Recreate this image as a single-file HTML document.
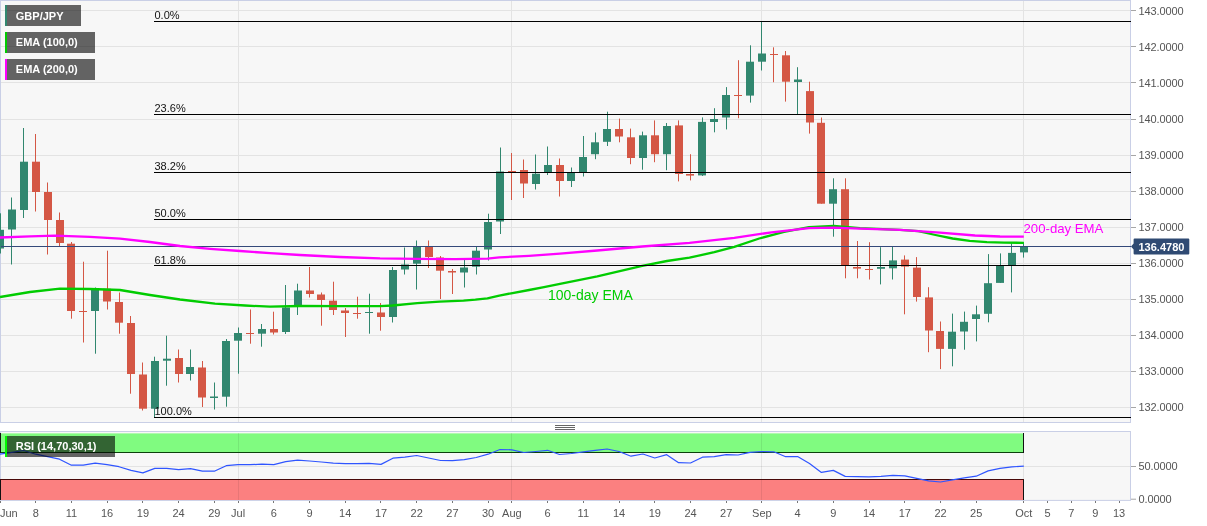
<!DOCTYPE html>
<html><head><meta charset="utf-8"><title>GBP/JPY</title>
<style>
html,body{margin:0;padding:0;background:#fff;}
body{width:1207px;height:526px;overflow:hidden;}
svg{display:block;will-change:transform;opacity:0.999;}
text{font-family:"Liberation Sans",sans-serif;}
</style></head><body>
<svg width="1207" height="526" viewBox="0 0 1207 526">
<rect x="0" y="0" width="1207" height="526" fill="#fff"/>
<rect x="0.5" y="0.5" width="1130" height="422" fill="#f7f7f7" stroke="#c9cfe6"/>
<rect x="1" y="10" width="1129" height="1" fill="#e3e3e3"/>
<rect x="1" y="46" width="1129" height="1" fill="#e3e3e3"/>
<rect x="1" y="82" width="1129" height="1" fill="#e3e3e3"/>
<rect x="1" y="119" width="1129" height="1" fill="#e3e3e3"/>
<rect x="1" y="155" width="1129" height="1" fill="#e3e3e3"/>
<rect x="1" y="191" width="1129" height="1" fill="#e3e3e3"/>
<rect x="1" y="227" width="1129" height="1" fill="#e3e3e3"/>
<rect x="1" y="263" width="1129" height="1" fill="#e3e3e3"/>
<rect x="1" y="299" width="1129" height="1" fill="#e3e3e3"/>
<rect x="1" y="335" width="1129" height="1" fill="#e3e3e3"/>
<rect x="1" y="371" width="1129" height="1" fill="#e3e3e3"/>
<rect x="1" y="407" width="1129" height="1" fill="#e3e3e3"/>
<rect x="238" y="1" width="1" height="421" fill="#e3e3e3"/>
<rect x="511" y="1" width="1" height="421" fill="#e3e3e3"/>
<rect x="761" y="1" width="1" height="421" fill="#e3e3e3"/>
<rect x="1023" y="1" width="1" height="421" fill="#e3e3e3"/>
<rect x="0" y="213.3" width="1" height="40.2" fill="#31876f"/><rect x="-4" y="229.8" width="8" height="18.7" fill="#31876f"/>
<rect x="11" y="197.5" width="1" height="67.0" fill="#31876f"/><rect x="8" y="209.5" width="8" height="20.0" fill="#31876f"/>
<rect x="23" y="128.0" width="1" height="90.0" fill="#31876f"/><rect x="20" y="161.7" width="8" height="48.3" fill="#31876f"/>
<rect x="35" y="134.0" width="1" height="77.5" fill="#d45745"/><rect x="32" y="161.7" width="8" height="30.3" fill="#d45745"/>
<rect x="47" y="182.5" width="1" height="72.0" fill="#d45745"/><rect x="44" y="192.0" width="8" height="28.0" fill="#d45745"/>
<rect x="59" y="212.5" width="1" height="33.5" fill="#d45745"/><rect x="56" y="220.0" width="8" height="23.0" fill="#d45745"/>
<rect x="71" y="242.0" width="1" height="76.7" fill="#d45745"/><rect x="67" y="243.7" width="8" height="67.3" fill="#d45745"/>
<rect x="83" y="261.7" width="1" height="80.8" fill="#d45745"/><rect x="79" y="311.0" width="8" height="1.0" fill="#d45745"/>
<rect x="95" y="287.5" width="1" height="66.2" fill="#31876f"/><rect x="91" y="289.5" width="8" height="21.5" fill="#31876f"/>
<rect x="107" y="250.7" width="1" height="58.8" fill="#d45745"/><rect x="103" y="288.7" width="8" height="12.8" fill="#d45745"/>
<rect x="119" y="292.5" width="1" height="41.2" fill="#d45745"/><rect x="115" y="302.0" width="8" height="20.7" fill="#d45745"/>
<rect x="130" y="316.0" width="1" height="77.7" fill="#d45745"/><rect x="127" y="323.0" width="8" height="51.0" fill="#d45745"/>
<rect x="142" y="362.5" width="1" height="48.0" fill="#d45745"/><rect x="139" y="374.5" width="8" height="34.2" fill="#d45745"/>
<rect x="154" y="356.7" width="1" height="60.8" fill="#31876f"/><rect x="151" y="361.0" width="8" height="47.7" fill="#31876f"/>
<rect x="166" y="335.7" width="1" height="50.0" fill="#31876f"/><rect x="163" y="358.7" width="8" height="2.0" fill="#31876f"/>
<rect x="178" y="349.5" width="1" height="33.0" fill="#d45745"/><rect x="175" y="358.0" width="8" height="16.0" fill="#d45745"/>
<rect x="190" y="349.5" width="1" height="31.0" fill="#31876f"/><rect x="186" y="367.0" width="8" height="7.0" fill="#31876f"/>
<rect x="202" y="361.0" width="1" height="46.0" fill="#d45745"/><rect x="198" y="367.5" width="8" height="30.0" fill="#d45745"/>
<rect x="214" y="382.5" width="1" height="27.0" fill="#31876f"/><rect x="210" y="396.5" width="8" height="1.5" fill="#31876f"/>
<rect x="226" y="339.0" width="1" height="67.7" fill="#31876f"/><rect x="222" y="341.0" width="8" height="55.7" fill="#31876f"/>
<rect x="238" y="327.5" width="1" height="46.2" fill="#31876f"/><rect x="234" y="333.0" width="8" height="7.7" fill="#31876f"/>
<rect x="250" y="309.5" width="1" height="34.2" fill="#d45745"/><rect x="246" y="333.0" width="8" height="1.0" fill="#d45745"/>
<rect x="261" y="324.0" width="1" height="22.7" fill="#31876f"/><rect x="258" y="329.0" width="8" height="4.7" fill="#31876f"/>
<rect x="273" y="311.7" width="1" height="22.8" fill="#d45745"/><rect x="270" y="329.0" width="8" height="3.5" fill="#d45745"/>
<rect x="285" y="285.0" width="1" height="49.0" fill="#31876f"/><rect x="282" y="307.5" width="8" height="24.5" fill="#31876f"/>
<rect x="297" y="283.7" width="1" height="31.3" fill="#31876f"/><rect x="294" y="290.5" width="8" height="15.0" fill="#31876f"/>
<rect x="309" y="267.0" width="1" height="30.5" fill="#d45745"/><rect x="306" y="290.5" width="8" height="3.5" fill="#d45745"/>
<rect x="321" y="292.5" width="1" height="33.2" fill="#d45745"/><rect x="317" y="294.5" width="8" height="5.5" fill="#d45745"/>
<rect x="333" y="281.7" width="1" height="33.3" fill="#d45745"/><rect x="329" y="300.7" width="8" height="9.3" fill="#d45745"/>
<rect x="345" y="308.0" width="1" height="29.0" fill="#d45745"/><rect x="341" y="310.5" width="8" height="2.5" fill="#d45745"/>
<rect x="357" y="296.7" width="1" height="22.0" fill="#d45745"/><rect x="353" y="313.0" width="8" height="1.0" fill="#d45745"/>
<rect x="369" y="293.7" width="1" height="40.0" fill="#31876f"/><rect x="365" y="312.0" width="8" height="1.0" fill="#31876f"/>
<rect x="380" y="303.0" width="1" height="27.7" fill="#d45745"/><rect x="377" y="312.5" width="8" height="4.5" fill="#d45745"/>
<rect x="392" y="267.0" width="1" height="55.5" fill="#31876f"/><rect x="389" y="270.0" width="8" height="47.0" fill="#31876f"/>
<rect x="404" y="247.5" width="1" height="27.0" fill="#31876f"/><rect x="401" y="264.5" width="8" height="5.0" fill="#31876f"/>
<rect x="416" y="240.5" width="1" height="49.0" fill="#31876f"/><rect x="413" y="246.7" width="8" height="17.0" fill="#31876f"/>
<rect x="428" y="240.5" width="1" height="27.5" fill="#d45745"/><rect x="425" y="247.0" width="8" height="10.0" fill="#d45745"/>
<rect x="440" y="256.0" width="1" height="43.0" fill="#d45745"/><rect x="436" y="257.5" width="8" height="13.2" fill="#d45745"/>
<rect x="452" y="269.0" width="1" height="25.0" fill="#d45745"/><rect x="448" y="271.0" width="8" height="1.5" fill="#d45745"/>
<rect x="464" y="260.0" width="1" height="27.5" fill="#31876f"/><rect x="460" y="267.5" width="8" height="5.0" fill="#31876f"/>
<rect x="476" y="247.0" width="1" height="27.5" fill="#31876f"/><rect x="472" y="250.7" width="8" height="16.0" fill="#31876f"/>
<rect x="488" y="213.7" width="1" height="46.8" fill="#31876f"/><rect x="484" y="222.0" width="8" height="27.5" fill="#31876f"/>
<rect x="500" y="147.5" width="1" height="86.5" fill="#31876f"/><rect x="496" y="171.5" width="8" height="50.0" fill="#31876f"/>
<rect x="511" y="153.0" width="1" height="47.0" fill="#d45745"/><rect x="508" y="171.0" width="8" height="1.0" fill="#d45745"/>
<rect x="523" y="159.5" width="1" height="38.5" fill="#d45745"/><rect x="520" y="170.0" width="8" height="13.5" fill="#d45745"/>
<rect x="535" y="154.5" width="1" height="35.0" fill="#31876f"/><rect x="532" y="173.7" width="8" height="10.3" fill="#31876f"/>
<rect x="547" y="146.5" width="1" height="28.5" fill="#31876f"/><rect x="544" y="165.0" width="8" height="7.0" fill="#31876f"/>
<rect x="559" y="158.5" width="1" height="38.0" fill="#d45745"/><rect x="556" y="165.0" width="8" height="16.0" fill="#d45745"/>
<rect x="571" y="167.5" width="1" height="19.5" fill="#31876f"/><rect x="567" y="173.0" width="8" height="8.0" fill="#31876f"/>
<rect x="583" y="136.0" width="1" height="40.5" fill="#31876f"/><rect x="579" y="157.0" width="8" height="15.0" fill="#31876f"/>
<rect x="595" y="132.5" width="1" height="26.7" fill="#31876f"/><rect x="591" y="142.3" width="8" height="11.9" fill="#31876f"/>
<rect x="607" y="111.7" width="1" height="34.3" fill="#31876f"/><rect x="603" y="129.0" width="8" height="12.8" fill="#31876f"/>
<rect x="619" y="118.6" width="1" height="23.7" fill="#d45745"/><rect x="615" y="129.0" width="8" height="7.5" fill="#d45745"/>
<rect x="630" y="128.6" width="1" height="35.6" fill="#d45745"/><rect x="627" y="137.3" width="8" height="20.7" fill="#d45745"/>
<rect x="642" y="131.6" width="1" height="38.1" fill="#31876f"/><rect x="639" y="135.3" width="8" height="22.7" fill="#31876f"/>
<rect x="654" y="120.4" width="1" height="41.8" fill="#d45745"/><rect x="651" y="135.3" width="8" height="18.9" fill="#d45745"/>
<rect x="666" y="123.0" width="1" height="47.2" fill="#31876f"/><rect x="663" y="126.0" width="8" height="28.2" fill="#31876f"/>
<rect x="678" y="120.4" width="1" height="61.0" fill="#d45745"/><rect x="675" y="125.4" width="8" height="48.6" fill="#d45745"/>
<rect x="690" y="154.2" width="1" height="26.2" fill="#d45745"/><rect x="686" y="174.0" width="8" height="1.6" fill="#d45745"/>
<rect x="702" y="117.4" width="1" height="58.6" fill="#31876f"/><rect x="698" y="121.9" width="8" height="53.5" fill="#31876f"/>
<rect x="714" y="108.2" width="1" height="24.1" fill="#31876f"/><rect x="710" y="119.0" width="8" height="3.0" fill="#31876f"/>
<rect x="726" y="87.1" width="1" height="42.3" fill="#31876f"/><rect x="722" y="95.0" width="8" height="22.5" fill="#31876f"/>
<rect x="738" y="60.2" width="1" height="58.0" fill="#d45745"/><rect x="734" y="95.0" width="8" height="1.0" fill="#d45745"/>
<rect x="750" y="45.3" width="1" height="57.3" fill="#31876f"/><rect x="746" y="61.7" width="8" height="33.9" fill="#31876f"/>
<rect x="761" y="21.7" width="1" height="48.8" fill="#31876f"/><rect x="758" y="53.5" width="8" height="8.2" fill="#31876f"/>
<rect x="773" y="47.3" width="1" height="34.9" fill="#d45745"/><rect x="770" y="54.0" width="8" height="1.0" fill="#d45745"/>
<rect x="785" y="51.0" width="1" height="50.6" fill="#d45745"/><rect x="782" y="55.3" width="8" height="26.4" fill="#d45745"/>
<rect x="797" y="67.2" width="1" height="46.8" fill="#31876f"/><rect x="794" y="79.5" width="8" height="2.5" fill="#31876f"/>
<rect x="809" y="81.7" width="1" height="51.9" fill="#d45745"/><rect x="806" y="91.1" width="8" height="31.4" fill="#d45745"/>
<rect x="821" y="117.5" width="1" height="86.2" fill="#d45745"/><rect x="817" y="122.8" width="8" height="80.9" fill="#d45745"/>
<rect x="833" y="178.3" width="1" height="58.4" fill="#31876f"/><rect x="829" y="189.2" width="8" height="14.5" fill="#31876f"/>
<rect x="845" y="178.3" width="1" height="100.0" fill="#d45745"/><rect x="841" y="189.2" width="8" height="76.6" fill="#d45745"/>
<rect x="857" y="241.0" width="1" height="37.3" fill="#d45745"/><rect x="853" y="267.0" width="8" height="1.6" fill="#d45745"/>
<rect x="869" y="242.2" width="1" height="37.3" fill="#d45745"/><rect x="865" y="269.0" width="8" height="1.0" fill="#d45745"/>
<rect x="880" y="247.2" width="1" height="37.2" fill="#31876f"/><rect x="877" y="267.0" width="8" height="1.8" fill="#31876f"/>
<rect x="892" y="246.7" width="1" height="32.8" fill="#31876f"/><rect x="889" y="260.4" width="8" height="7.9" fill="#31876f"/>
<rect x="904" y="255.4" width="1" height="58.9" fill="#d45745"/><rect x="901" y="259.6" width="8" height="7.0" fill="#d45745"/>
<rect x="916" y="257.1" width="1" height="44.5" fill="#d45745"/><rect x="913" y="267.6" width="8" height="29.4" fill="#d45745"/>
<rect x="928" y="287.2" width="1" height="65.0" fill="#d45745"/><rect x="925" y="297.4" width="8" height="33.1" fill="#d45745"/>
<rect x="940" y="321.5" width="1" height="47.6" fill="#d45745"/><rect x="936" y="331.0" width="8" height="17.9" fill="#d45745"/>
<rect x="952" y="313.6" width="1" height="52.7" fill="#31876f"/><rect x="948" y="331.7" width="8" height="17.2" fill="#31876f"/>
<rect x="964" y="311.6" width="1" height="38.1" fill="#31876f"/><rect x="960" y="321.8" width="8" height="9.7" fill="#31876f"/>
<rect x="976" y="305.6" width="1" height="35.8" fill="#31876f"/><rect x="972" y="314.3" width="8" height="4.7" fill="#31876f"/>
<rect x="988" y="254.1" width="1" height="68.2" fill="#31876f"/><rect x="984" y="283.2" width="8" height="30.6" fill="#31876f"/>
<rect x="1000" y="253.4" width="1" height="29.5" fill="#31876f"/><rect x="996" y="265.8" width="8" height="17.1" fill="#31876f"/>
<rect x="1011" y="243.4" width="1" height="49.0" fill="#31876f"/><rect x="1008" y="252.9" width="8" height="12.2" fill="#31876f"/>
<rect x="1023" y="242.2" width="1" height="15.4" fill="#31876f"/><rect x="1020" y="246.7" width="8" height="5.7" fill="#31876f"/>
<rect x="1" y="246" width="1130" height="1" fill="#34497a"/>
<path d="M0.0,297.0 L30.0,292.0 L60.0,288.7 L90.0,289.0 L120.0,290.0 L150.0,295.0 L180.0,299.5 L215.0,303.7 L245.0,305.5 L270.0,306.7 L300.0,306.0 L340.0,306.2 L380.0,306.1 L392.7,305.5 L417.3,303.1 L439.6,301.6 L463.5,300.6 L475.4,299.7 L487.4,298.3 L499.3,295.6 L511.2,293.3 L529.1,290.0 L544.0,287.1 L560.0,283.8 L597.3,276.4 L642.2,265.9 L667.0,261.0 L689.5,257.7 L714.3,252.2 L734.3,246.8 L759.2,238.5 L784.0,231.8 L809.0,227.1 L833.8,225.8 L860.0,228.1 L900.0,229.8 L918.4,231.2 L935.5,235.0 L952.6,238.5 L969.7,240.9 L986.9,242.2 L1004.0,242.7 L1023.8,242.8" fill="none" stroke="#00cc00" stroke-width="2.3" stroke-linejoin="round"/>
<path d="M0.0,237.5 L30.0,236.3 L55.0,235.7 L90.0,236.8 L120.0,238.7 L150.0,242.0 L180.0,246.0 L210.0,248.8 L240.0,251.0 L270.0,253.2 L300.0,255.0 L340.0,257.0 L380.0,258.4 L417.0,258.8 L455.0,259.1 L487.4,258.6 L499.3,257.4 L529.0,255.8 L560.0,253.7 L597.3,250.5 L642.2,246.5 L689.5,242.8 L734.3,237.8 L771.6,232.3 L809.0,228.1 L833.8,227.6 L860.0,228.6 L900.0,229.8 L940.0,232.7 L975.0,235.5 L1000.0,236.5 L1023.8,236.6" fill="none" stroke="#ff00ff" stroke-width="2.3" stroke-linejoin="round"/>
<text x="548" y="299.5" font-size="14" fill="#00cc00">100-day EMA</text>
<text x="1023.5" y="233" font-size="13.2" fill="#ff00ff">200-day EMA</text>
<rect x="154" y="21" width="977" height="1" fill="#000"/>
<text x="154.5" y="19" font-size="11" fill="#111">0.0%</text>
<rect x="154" y="114" width="977" height="1" fill="#000"/>
<text x="154.5" y="112" font-size="11" fill="#111">23.6%</text>
<rect x="154" y="172" width="977" height="1" fill="#000"/>
<text x="154.5" y="170" font-size="11" fill="#111">38.2%</text>
<rect x="154" y="219" width="977" height="1" fill="#000"/>
<text x="154.5" y="217" font-size="11" fill="#111">50.0%</text>
<rect x="154" y="265" width="977" height="1" fill="#000"/>
<text x="154.5" y="264" font-size="11" fill="#111">61.8%</text>
<rect x="154" y="417" width="977" height="1" fill="#000"/>
<text x="154.5" y="414.5" font-size="11" fill="#111">100.0%</text>
<rect x="5" y="5" width="76" height="21" fill="#000" fill-opacity="0.6"/><rect x="5" y="5" width="2" height="21" fill="#31876f"/><text x="15.8" y="19.6" font-size="11" font-weight="bold" fill="#fff">GBP/JPY</text>
<rect x="5" y="32" width="90" height="21" fill="#000" fill-opacity="0.6"/><rect x="5" y="32" width="2" height="21" fill="#00cc00"/><text x="15.8" y="45.7" font-size="11" font-weight="bold" fill="#fff">EMA (100,0)</text>
<rect x="5" y="59" width="90" height="21" fill="#000" fill-opacity="0.6"/><rect x="5" y="59" width="2" height="21" fill="#ff00ff"/><text x="15.8" y="72.7" font-size="11" font-weight="bold" fill="#fff">EMA (200,0)</text>
<rect x="1131" y="10" width="5" height="1" fill="#a6a6a6"/><text x="1138.5" y="14.6" font-size="11" fill="#555" textLength="45.2">143.0000</text>
<rect x="1131" y="46" width="5" height="1" fill="#a6a6a6"/><text x="1138.5" y="50.7" font-size="11" fill="#555" textLength="45.2">142.0000</text>
<rect x="1131" y="82" width="5" height="1" fill="#a6a6a6"/><text x="1138.5" y="86.7" font-size="11" fill="#555" textLength="45.2">141.0000</text>
<rect x="1131" y="119" width="5" height="1" fill="#a6a6a6"/><text x="1138.5" y="122.8" font-size="11" fill="#555" textLength="45.2">140.0000</text>
<rect x="1131" y="155" width="5" height="1" fill="#a6a6a6"/><text x="1138.5" y="158.9" font-size="11" fill="#555" textLength="45.2">139.0000</text>
<rect x="1131" y="191" width="5" height="1" fill="#a6a6a6"/><text x="1138.5" y="194.9" font-size="11" fill="#555" textLength="45.2">138.0000</text>
<rect x="1131" y="227" width="5" height="1" fill="#a6a6a6"/><text x="1138.5" y="231.0" font-size="11" fill="#555" textLength="45.2">137.0000</text>
<rect x="1131" y="263" width="5" height="1" fill="#a6a6a6"/><text x="1138.5" y="267.1" font-size="11" fill="#555" textLength="45.2">136.0000</text>
<rect x="1131" y="299" width="5" height="1" fill="#a6a6a6"/><text x="1138.5" y="303.2" font-size="11" fill="#555" textLength="45.2">135.0000</text>
<rect x="1131" y="335" width="5" height="1" fill="#a6a6a6"/><text x="1138.5" y="339.2" font-size="11" fill="#555" textLength="45.2">134.0000</text>
<rect x="1131" y="371" width="5" height="1" fill="#a6a6a6"/><text x="1138.5" y="375.3" font-size="11" fill="#555" textLength="45.2">133.0000</text>
<rect x="1131" y="407" width="5" height="1" fill="#a6a6a6"/><text x="1138.5" y="411.4" font-size="11" fill="#555" textLength="45.2">132.0000</text>
<path d="M1131,246.5 L1133.6,243.6 L1133.6,239.5 Q1133.6,238.5 1134.6,238.5 L1188.3,238.5 Q1189.3,238.5 1189.3,239.5 L1189.3,253.5 Q1189.3,254.5 1188.3,254.5 L1134.6,254.5 Q1133.6,254.5 1133.6,253.5 L1133.6,249.4 Z" fill="#2f4a73"/><text x="1138.5" y="251" font-size="11" font-weight="bold" fill="#fff">136.4780</text>
<rect x="555" y="425" width="20" height="1" fill="#666"/><rect x="555" y="427" width="20" height="1" fill="#666"/><rect x="555" y="429" width="20" height="1" fill="#666"/>
<rect x="0.5" y="431.5" width="1130" height="68.9" fill="#f7f7f7" stroke="#c9cfe6"/>
<rect x="1" y="466" width="1129" height="1" fill="#e3e3e3"/>
<rect x="0" y="433.4" width="1024" height="19.6" fill="#80fb80"/>
<rect x="0" y="480" width="1024" height="20" fill="#fb8080"/>
<rect x="238" y="433" width="1" height="67" fill="#000" fill-opacity="0.08"/>
<rect x="511" y="433" width="1" height="67" fill="#000" fill-opacity="0.08"/>
<rect x="761" y="433" width="1" height="67" fill="#000" fill-opacity="0.08"/>
<rect x="1023" y="433" width="1" height="67" fill="#000" fill-opacity="0.08"/>
<rect x="0" y="452" width="1024" height="1" fill="#0c400c"/><rect x="0" y="479" width="1024" height="1" fill="#480808"/><rect x="1023" y="433" width="1" height="20" fill="#111"/><rect x="1023" y="480" width="1" height="20" fill="#111"/><rect x="0" y="433" width="1" height="20" fill="#111"/><rect x="0" y="480" width="1" height="20" fill="#111"/>
<path d="M0.0,454.2 L11.9,452.3 L23.8,450.5 L35.7,454.2 L47.6,456.7 L59.5,459.2 L71.4,465.2 L83.3,465.2 L95.2,463.2 L107.1,464.7 L119.0,466.7 L131.0,470.4 L142.9,472.9 L154.8,468.4 L166.7,468.4 L178.6,469.7 L190.5,468.7 L202.4,471.2 L214.3,471.2 L226.2,465.7 L238.1,464.7 L250.0,464.7 L261.9,464.2 L273.8,464.7 L285.7,461.7 L297.6,460.2 L309.5,461.0 L321.4,462.0 L333.3,463.2 L345.2,463.7 L357.1,463.7 L369.0,463.4 L381.0,464.4 L392.9,458.2 L404.8,457.2 L416.7,455.5 L428.6,458.0 L440.5,460.5 L452.4,460.7 L464.3,459.7 L476.2,457.5 L488.1,454.2 L500.0,449.5 L511.9,449.8 L523.8,452.5 L535.7,451.5 L547.6,450.3 L559.5,454.5 L571.4,453.5 L583.3,451.8 L595.2,450.3 L607.1,449.0 L619.0,451.5 L631.0,456.2 L642.9,454.0 L654.8,458.0 L666.7,454.7 L678.6,462.7 L690.5,463.0 L702.4,457.2 L714.3,456.7 L726.2,454.7 L738.1,455.0 L750.0,452.3 L761.9,451.5 L773.8,451.8 L785.7,456.7 L797.6,456.5 L809.5,463.4 L821.4,472.4 L833.3,470.4 L845.2,476.4 L857.1,476.6 L869.0,476.8 L881.0,476.4 L892.9,475.3 L904.8,475.9 L916.7,478.4 L928.6,480.9 L940.5,482.0 L952.4,479.8 L964.3,477.8 L976.2,476.2 L988.1,470.9 L1000.0,468.3 L1011.9,466.9 L1023.8,466.1" fill="none" stroke="#2f55ff" stroke-width="1.2" stroke-linejoin="round"/>
<rect x="5" y="436" width="110" height="21" fill="#000" fill-opacity="0.6"/><rect x="5" y="436" width="2" height="21" fill="#00f800"/><text x="15.8" y="450" font-size="11" font-weight="bold" fill="#fff">RSI (14,70,30,1)</text>
<rect x="1131" y="466" width="5" height="1" fill="#a6a6a6"/><text x="1138.5" y="469.6" font-size="11" fill="#555" textLength="39.2">50.0000</text><rect x="1131" y="498.7" width="5" height="1" fill="#a6a6a6"/><text x="1138.5" y="502.6" font-size="11" fill="#555" textLength="33.2">0.0000</text>
<rect x="0" y="501" width="1" height="2" fill="#777"/><text x="0" y="517" font-size="11" fill="#555">Jun</text>
<rect x="35" y="501" width="1" height="2" fill="#777"/><text x="35.7" y="517" font-size="11" fill="#555" text-anchor="middle">8</text>
<rect x="71" y="501" width="1" height="2" fill="#777"/><text x="71.4" y="517" font-size="11" fill="#555" text-anchor="middle">11</text>
<rect x="107" y="501" width="1" height="2" fill="#777"/><text x="107.1" y="517" font-size="11" fill="#555" text-anchor="middle">16</text>
<rect x="142" y="501" width="1" height="2" fill="#777"/><text x="142.9" y="517" font-size="11" fill="#555" text-anchor="middle">19</text>
<rect x="178" y="501" width="1" height="2" fill="#777"/><text x="178.6" y="517" font-size="11" fill="#555" text-anchor="middle">24</text>
<rect x="214" y="501" width="1" height="2" fill="#777"/><text x="214.3" y="517" font-size="11" fill="#555" text-anchor="middle">29</text>
<rect x="238" y="501" width="1" height="2" fill="#777"/><text x="238.1" y="517" font-size="11" fill="#555" text-anchor="middle">Jul</text>
<rect x="273" y="501" width="1" height="2" fill="#777"/><text x="273.8" y="517" font-size="11" fill="#555" text-anchor="middle">6</text>
<rect x="309" y="501" width="1" height="2" fill="#777"/><text x="309.5" y="517" font-size="11" fill="#555" text-anchor="middle">9</text>
<rect x="345" y="501" width="1" height="2" fill="#777"/><text x="345.2" y="517" font-size="11" fill="#555" text-anchor="middle">14</text>
<rect x="380" y="501" width="1" height="2" fill="#777"/><text x="381.0" y="517" font-size="11" fill="#555" text-anchor="middle">17</text>
<rect x="416" y="501" width="1" height="2" fill="#777"/><text x="416.7" y="517" font-size="11" fill="#555" text-anchor="middle">22</text>
<rect x="452" y="501" width="1" height="2" fill="#777"/><text x="452.4" y="517" font-size="11" fill="#555" text-anchor="middle">27</text>
<rect x="488" y="501" width="1" height="2" fill="#777"/><text x="488.1" y="517" font-size="11" fill="#555" text-anchor="middle">30</text>
<rect x="511" y="501" width="1" height="2" fill="#777"/><text x="511.9" y="517" font-size="11" fill="#555" text-anchor="middle">Aug</text>
<rect x="547" y="501" width="1" height="2" fill="#777"/><text x="547.6" y="517" font-size="11" fill="#555" text-anchor="middle">6</text>
<rect x="583" y="501" width="1" height="2" fill="#777"/><text x="583.3" y="517" font-size="11" fill="#555" text-anchor="middle">11</text>
<rect x="619" y="501" width="1" height="2" fill="#777"/><text x="619.0" y="517" font-size="11" fill="#555" text-anchor="middle">14</text>
<rect x="654" y="501" width="1" height="2" fill="#777"/><text x="654.8" y="517" font-size="11" fill="#555" text-anchor="middle">19</text>
<rect x="690" y="501" width="1" height="2" fill="#777"/><text x="690.5" y="517" font-size="11" fill="#555" text-anchor="middle">24</text>
<rect x="726" y="501" width="1" height="2" fill="#777"/><text x="726.2" y="517" font-size="11" fill="#555" text-anchor="middle">27</text>
<rect x="761" y="501" width="1" height="2" fill="#777"/><text x="761.9" y="517" font-size="11" fill="#555" text-anchor="middle">Sep</text>
<rect x="797" y="501" width="1" height="2" fill="#777"/><text x="797.6" y="517" font-size="11" fill="#555" text-anchor="middle">4</text>
<rect x="833" y="501" width="1" height="2" fill="#777"/><text x="833.3" y="517" font-size="11" fill="#555" text-anchor="middle">9</text>
<rect x="869" y="501" width="1" height="2" fill="#777"/><text x="869.0" y="517" font-size="11" fill="#555" text-anchor="middle">14</text>
<rect x="904" y="501" width="1" height="2" fill="#777"/><text x="904.8" y="517" font-size="11" fill="#555" text-anchor="middle">17</text>
<rect x="940" y="501" width="1" height="2" fill="#777"/><text x="940.5" y="517" font-size="11" fill="#555" text-anchor="middle">22</text>
<rect x="976" y="501" width="1" height="2" fill="#777"/><text x="976.2" y="517" font-size="11" fill="#555" text-anchor="middle">25</text>
<rect x="1023" y="501" width="1" height="2" fill="#777"/><text x="1023.8" y="517" font-size="11" fill="#555" text-anchor="middle">Oct</text>
<rect x="1047" y="501" width="1" height="2" fill="#777"/><text x="1047.6" y="517" font-size="11" fill="#555" text-anchor="middle">5</text>
<rect x="1071" y="501" width="1" height="2" fill="#777"/><text x="1071.4" y="517" font-size="11" fill="#555" text-anchor="middle">7</text>
<rect x="1095" y="501" width="1" height="2" fill="#777"/><text x="1095.2" y="517" font-size="11" fill="#555" text-anchor="middle">9</text>
<rect x="1119" y="501" width="1" height="2" fill="#777"/><text x="1119.0" y="517" font-size="11" fill="#555" text-anchor="middle">13</text>
</svg>
</body></html>
